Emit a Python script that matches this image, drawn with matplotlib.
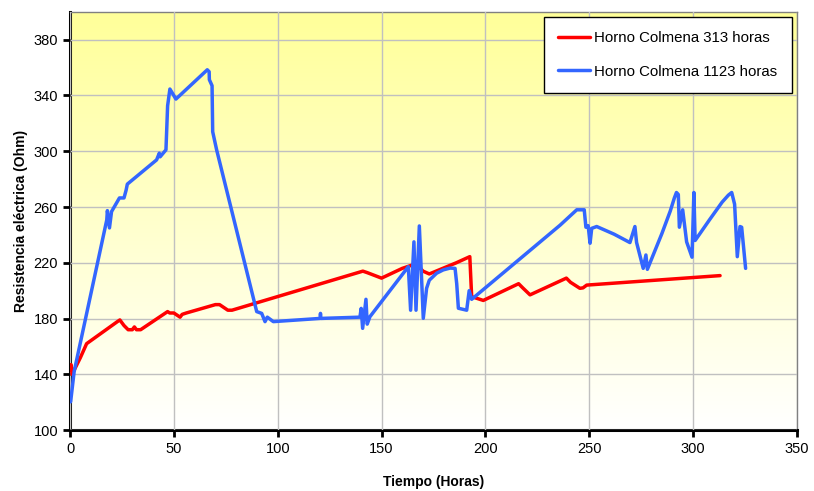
import numpy as np
import matplotlib
matplotlib.use("Agg")
import matplotlib.pyplot as plt
from matplotlib.colors import LinearSegmentedColormap

plt.rcParams['font.family'] = ['Liberation Sans', 'DejaVu Sans']

# Horno Colmena 313 horas
t_313 = [0, 0.5, 1, 3, 5, 8, 23, 24, 26, 28, 30, 31, 32, 34, 47, 48, 50, 53, 54, 56,
         70, 72, 76, 78, 141, 143, 150, 160, 165, 168, 170, 173, 186, 192.5, 193.4,
         199, 216, 218, 221.5, 239, 241, 245.5, 247, 248.8, 313]
r_313 = [143, 147, 140, 146, 152, 162, 178, 179, 175, 172, 172, 174, 172, 172, 185, 184,
         184, 181, 183, 184, 190, 190, 186, 186, 214, 213, 209, 216, 218.5, 217, 214, 212,
         220, 224.4, 195.7, 193, 205, 202, 197, 209, 206, 201.7, 202, 204, 210.8]

# Horno Colmena 1123 horas
t_1123 = [0.3, 2, 17.7, 18, 19, 20, 23.8, 26, 27, 27.6, 41.7, 43, 43.4, 46.2, 47, 48.1,
          51, 66.1, 67, 67.1, 68.4, 68.7, 70.6, 89.9, 92.3, 93.9, 95, 97.9, 120.4, 120.6,
          120.8, 139.6, 140.2, 140.9, 142.5, 143.1, 144.4, 162.9, 164, 165.6, 166.6, 168.2,
          170.1, 171.7, 173, 176.5, 179.7, 183, 185.4, 186.2, 187, 191, 192.2, 193.4, 236,
          244, 247.6, 248.4, 249.5, 250.4, 251.2, 253.6, 262, 269.6, 272, 272.8, 276, 277.3,
          278, 285, 289, 291, 292, 292.9, 293.4, 295, 296.9, 299.5, 300.4, 301, 308, 314,
          317, 318.6, 320, 321.3, 322.6, 323.4, 325.3]
r_1123 = [120.3, 142, 250.7, 257.4, 245, 256.7, 266.5, 266.5, 272, 276.4, 293.8, 298.6,
          296, 301, 332.6, 344.6, 337.4, 358.4, 357, 351.3, 347, 314, 301, 185, 183.7,
          177.8, 181, 177.8, 180.1, 183.7, 180.1, 181, 187.3, 173, 193.8, 176, 181.3, 217.2,
          186, 235, 186, 246.4, 180.2, 201.7, 207.5, 212.5, 214.9, 216.2, 216, 205, 187.4,
          186, 200, 193.8, 247, 258, 258, 245.5, 246.6, 234, 244.7, 246, 240.5, 234.5, 246,
          234.6, 216, 225.6, 215.3, 241, 257, 266.5, 270.4, 269, 245.5, 258, 235, 224, 270.4,
          236, 251, 263.5, 268.5, 270.4, 262, 224.4, 246, 245.5, 216]

x_ticks = [0, 50, 100, 150, 200, 250, 300, 350]
y_ticks = [100, 140, 180, 220, 260, 300, 340, 380]

fig = plt.figure(figsize=(8.14, 4.91), dpi=100)
ax = fig.add_axes([0.086, 0.124, 0.893, 0.852])

# vertical yellow-to-white gradient behind the plot
grad = LinearSegmentedColormap.from_list("yw", ["#ffffff", "#ffff99"])
ax.imshow(np.linspace(0, 1, 256).reshape(-1, 1), cmap=grad, aspect='auto',
          extent=[0, 350, 100, 400], origin='lower', zorder=0)

ax.set_xlim(0, 350)
ax.set_ylim(100, 400)
ax.set_xticks(x_ticks)
ax.set_yticks(y_ticks)
ax.grid(True, color='#c0c0c0', lw=1, zorder=1)
ax.set_axisbelow(False)

ax.plot(t_313, r_313, color='#ff0000', lw=2.5, zorder=3, label='Horno Colmena 313 horas',
        solid_joinstyle='round', solid_capstyle='round')
ax.plot(t_1123, r_1123, color='#3366ff', lw=2.5, zorder=3, label='Horno Colmena 1123 horas',
        solid_joinstyle='round', solid_capstyle='round')

for s in ('left', 'bottom'):
    ax.spines[s].set_linewidth(2.2)
    ax.spines[s].set_color('black')
for s in ('top', 'right'):
    ax.spines[s].set_linewidth(1)
    ax.spines[s].set_color('#808080')

ax.tick_params(axis='both', direction='out', length=5, width=2, labelsize=10.5,
               top=False, right=False)
ax.set_xlabel('Tiempo (Horas)', fontsize=10, fontweight='bold', labelpad=14)
ax.set_ylabel('Resistencia eléctrica (Ohm)', fontsize=10, fontweight='bold', labelpad=4)

leg = ax.legend(loc='upper right', bbox_to_anchor=(0.993, 0.988), fancybox=False,
                edgecolor='black', framealpha=1, fontsize=10.8, handlelength=2.1,
                handletextpad=0.3, labelspacing=1.3, borderpad=0.95, borderaxespad=0)
leg.get_frame().set_linewidth(1)

fig.savefig('out.png', dpi=100)
